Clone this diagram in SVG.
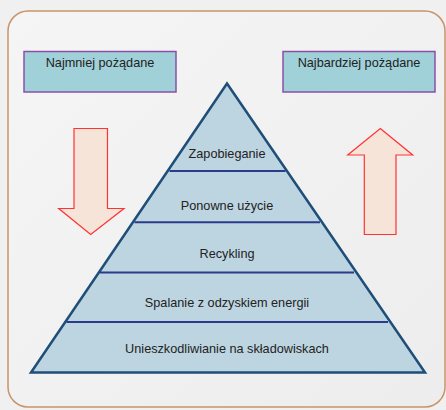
<svg xmlns="http://www.w3.org/2000/svg" width="446" height="410" viewBox="0 0 446 410">
<defs>
<linearGradient id="bg" x1="0" y1="0" x2="1" y2="1">
<stop offset="0" stop-color="#f5f5f5"/>
<stop offset="1" stop-color="#ededed"/>
</linearGradient>
<style>
.lbl{font-family:"Liberation Sans",Arial,sans-serif;font-size:12.7px;fill:#222;text-anchor:middle;dominant-baseline:central}
.box{fill:#a0d0d8;stroke:#8a50a8;stroke-width:1.5}
.arr{fill:#f6e4d8;stroke:#ff3333;stroke-width:1.2}
.sep{stroke:#2b3b8c;stroke-width:2}
</style>
</defs>
<rect width="446" height="410" fill="#f0f0f0"/>
<rect x="8" y="11" width="437" height="396" rx="20" fill="url(#bg)" stroke="#c8946a" stroke-width="1.5"/>
<g id="least">
<rect class="box" x="24" y="51.5" width="152" height="40.5"/>
<text class="lbl" x="100" y="63">Najmniej pożądane</text>
</g>
<g id="most">
<rect class="box" x="283" y="51.5" width="152" height="40.5"/>
<text class="lbl" x="359" y="63">Najbardziej pożądane</text>
</g>
<g id="arrow-down">
<polygon class="arr" points="74,128.5 107.5,128.5 107.5,208.5 124,208.5 90.7,234.5 58.7,208.5 74,208.5"/>
</g>
<g id="arrow-up">
<polygon class="arr" points="380.3,128.5 412.7,155 396,155 396,234.5 364.3,234.5 364.3,155 347.7,155"/>
</g>
<g id="pyramid">
<polygon points="227,83.5 425,372.5 31,372.5" fill="#bdd5e1" stroke="#1f4e79" stroke-width="2.5" stroke-linejoin="miter"/>
</g>
<g id="connectors">
<line class="sep" x1="169.5" y1="171" x2="285.5" y2="171"/>
<line class="sep" x1="134.5" y1="222.3" x2="320" y2="222.3"/>
<line class="sep" x1="100" y1="272.5" x2="354" y2="272.5"/>
<line class="sep" x1="66.5" y1="322" x2="388" y2="322"/>
</g>
<g id="level1"><text class="lbl" x="227" y="154">Zapobieganie</text></g>
<g id="level2"><text class="lbl" x="227" y="206">Ponowne użycie</text></g>
<g id="level3"><text class="lbl" x="227" y="254">Recykling</text></g>
<g id="level4"><text class="lbl" x="227" y="303">Spalanie z odzyskiem energii</text></g>
<g id="level5"><text class="lbl" x="227" y="349">Unieszkodliwianie na składowiskach</text></g>
</svg>
